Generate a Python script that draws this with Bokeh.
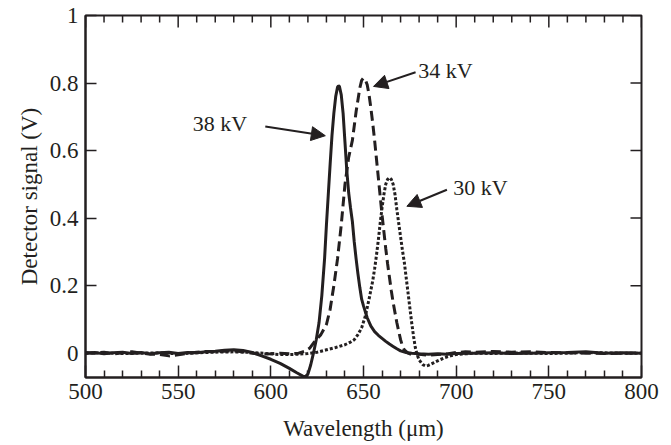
import math
from bokeh.plotting import figure
from bokeh.models import (ColumnDataSource, FixedTicker, LinearAxis, Range1d,
                          Arrow, NormalHead, PrintfTickFormatter)
from bokeh.core.properties import value
from bokeh.embed import file_html
from bokeh.resources import INLINE

INK = "#231f20"
FONT = "Liberation Serif"

# ---------------- data ----------------
wl_38 = [500, 505, 510, 515, 520, 525, 530, 535, 540, 545, 550, 555, 560, 565, 570,
         575, 580, 585, 590, 595, 600, 605, 610, 614, 617, 618.5, 620, 621.5, 623,
         624.5, 626, 627.5, 629, 630, 631, 632, 633, 634, 635, 636, 636.5, 637, 638,
         639, 640, 641, 642, 643, 644, 645, 646, 647, 648, 649, 650, 652, 654, 656,
         658, 660, 662, 664, 666, 668, 670, 673, 676, 680, 685, 690, 695, 700, 710,
         720, 730, 740, 750, 760, 770, 780, 790, 800]
sig_38 = [0.0, 0.002, -0.002, 0.001, 0.003, -0.001, 0.002, -0.002, 0.001, 0.003,
          -0.001, 0.002, 0.001, 0.004, 0.006, 0.009, 0.010, 0.008, 0.002, -0.008,
          -0.018, -0.030, -0.045, -0.058, -0.067, -0.070, -0.062, -0.035, 0.0,
          0.04, 0.09, 0.17, 0.28, 0.38, 0.47, 0.56, 0.645, 0.71, 0.76, 0.788, 0.792,
          0.79, 0.765, 0.71, 0.625, 0.54, 0.475, 0.43, 0.39, 0.33, 0.28, 0.235,
          0.195, 0.16, 0.14, 0.105, 0.08, 0.064, 0.053, 0.044, 0.035, 0.027, 0.02,
          0.013, 0.007, 0.002, 0.0, -0.002, -0.003, -0.002, -0.003, -0.001, 0.0,
          0.001, -0.001, 0.0, 0.001, 0.002, 0.004, 0.0, 0.001, 0.0]

wl_34 = [500, 505, 510, 515, 520, 525, 530, 535, 540, 545, 550, 555, 560, 565, 570,
         575, 580, 585, 590, 595, 600, 605, 610, 615, 618, 621, 624, 627, 630, 632,
         634, 636, 638, 640, 642, 644, 646, 647, 648, 649, 650, 651, 652, 653, 654,
         655, 656, 657, 658, 659, 660, 661, 662, 663, 664, 665, 666, 667, 668, 669,
         670, 671, 672, 674, 676, 680, 685, 690, 695, 700, 705, 710, 720, 730, 740,
         750, 760, 770, 780, 790, 800]
sig_34 = [0.002, 0.0, 0.003, -0.002, 0.001, 0.004, 0.0, -0.003, -0.004, -0.008,
          -0.005, 0.0, 0.003, 0.005, 0.004, 0.006, 0.007, 0.004, 0.0, -0.003,
          -0.002, 0.0, -0.002, 0.0, 0.005, 0.015, 0.037, 0.055, 0.085, 0.13, 0.2,
          0.28, 0.38, 0.5, 0.58, 0.63, 0.715, 0.75, 0.785, 0.808, 0.815, 0.81,
          0.795, 0.765, 0.725, 0.68, 0.63, 0.575, 0.52, 0.465, 0.41, 0.36, 0.31,
          0.265, 0.225, 0.185, 0.15, 0.12, 0.09, 0.065, 0.04, 0.022, 0.01, 0.0,
          -0.004, -0.003, -0.006, -0.004, -0.002, 0.002, 0.004, 0.003, 0.005, 0.003,
          0.004, 0.002, 0.001, 0.0, -0.001, 0.0, 0.001]

wl_30 = [500, 510, 520, 530, 540, 550, 560, 570, 580, 590, 600, 605, 610, 615, 620,
         625, 630, 635, 640, 643, 645, 647, 649, 651, 653, 655, 656, 657, 658, 659,
         660, 661, 662, 663, 664, 665, 666, 667, 668, 669, 670, 671, 672, 673, 674,
         675, 676, 677, 678, 679, 680, 682, 683.5, 685, 688, 691, 694, 697, 700,
         705, 710, 720, 730, 740, 750, 760, 770, 780, 790, 800]
sig_30 = [0.0, 0.001, -0.001, 0.0, 0.001, -0.002, 0.001, 0.003, 0.004, 0.002,
          -0.002, -0.004, -0.004, -0.003, -0.001, 0.003, 0.01, 0.017, 0.025, 0.033,
          0.04, 0.055, 0.075, 0.11, 0.16, 0.215, 0.25, 0.29, 0.335, 0.385, 0.43,
          0.47, 0.5, 0.515, 0.52, 0.515, 0.5, 0.47, 0.425, 0.385, 0.345, 0.305,
          0.27, 0.225, 0.18, 0.135, 0.09, 0.05, 0.015, -0.005, -0.02, -0.034,
          -0.038, -0.036, -0.028, -0.02, -0.013, -0.008, -0.004, -0.002, 0.0,
          -0.001, 0.001, 0.0, -0.001, 0.0, 0.002, 0.001, 0.0, 0.0]

x_ticks = [500, 550, 600, 650, 700, 750, 800]
x_minor = [v for v in range(500, 801, 10) if v % 50]
y_ticks = [0, 0.2, 0.4, 0.6, 0.8, 1]

ann_text = ["38 kV", "34 kV", "30 kV"]
ann_x = [557.9, 679.5, 698.4]
ann_y = [0.680, 0.837, 0.491]
arr_x0 = [597.0, 678.1, 695.0]
arr_y0 = [0.671, 0.832, 0.484]
arr_x1 = [629.4, 655.4, 673.4]
arr_y1 = [0.644, 0.790, 0.435]

X_MIN, X_MAX = 500, 800
Y_MIN, Y_MAX = -0.072, 1.0

# ---------------- figure ----------------
p = figure(width=663, height=445, output_backend="svg", toolbar_location=None,
           x_range=Range1d(X_MIN, X_MAX), y_range=Range1d(Y_MIN, Y_MAX),
           min_border_left=85, min_border_right=22, min_border_top=15,
           min_border_bottom=68, x_axis_location=None, y_axis_location=None)
p.grid.visible = False
p.outline_line_color = INK
p.outline_line_width = 2
p.background_fill_color = "white"
p.border_fill_color = "white"


def style_axis(ax, minor):
    ax.axis_line_color = INK
    ax.axis_line_width = 2
    ax.major_tick_line_color = INK
    ax.major_tick_line_width = 1.5
    ax.major_tick_out = 0
    ax.minor_tick_out = 0
    if minor:
        ax.major_tick_in = 12
        ax.minor_tick_in = 7
        ax.minor_tick_line_color = INK
        ax.minor_tick_line_width = 1.5
    else:
        ax.major_tick_in = 11
        ax.minor_tick_line_color = None
    ax.major_label_text_font = FONT
    ax.major_label_text_color = INK
    ax.major_label_text_font_size = "23px"
    ax.axis_label_text_font = FONT
    ax.axis_label_text_font_size = "23px"
    ax.axis_label_text_font_style = "normal"
    ax.axis_label_text_color = INK


xt = FixedTicker(ticks=x_ticks, minor_ticks=x_minor)
yt = FixedTicker(ticks=y_ticks, minor_ticks=[])

xb = LinearAxis(ticker=xt, formatter=PrintfTickFormatter(format="%d"),
                axis_label="Wavelength (\u03bcm)")
style_axis(xb, True)
xb.major_label_standoff = 6
xb.axis_label_standoff = 14
p.add_layout(xb, "below")

yl = LinearAxis(ticker=yt, formatter=PrintfTickFormatter(format="%g"),
                axis_label="Detector signal (V)")
style_axis(yl, False)
yl.major_label_standoff = 7
yl.axis_label_standoff = 5
p.add_layout(yl, "left")

# mirrored tick marks on the top and right frame edges
p.ray(x=x_ticks, y=[Y_MAX] * len(x_ticks), length=12, length_units="screen",
      angle=-math.pi / 2, line_color=INK, line_width=1.5)
p.ray(x=x_minor, y=[Y_MAX] * len(x_minor), length=7, length_units="screen",
      angle=-math.pi / 2, line_color=INK, line_width=1.5)
p.ray(x=[X_MAX] * len(y_ticks), y=y_ticks, length=11, length_units="screen",
      angle=math.pi, line_color=INK, line_width=1.5)

# ---------------- curves ----------------
p.line(wl_30, sig_30, line_color=INK, line_width=3, line_dash="3 2")
p.line(wl_34, sig_34, line_color=INK, line_width=3, line_dash="10 5")
p.line(wl_38, sig_38, line_color=INK, line_width=3)

# ---------------- annotations ----------------
asrc = ColumnDataSource(dict(x0=arr_x0, y0=arr_y0, x1=arr_x1, y1=arr_y1))
p.add_layout(Arrow(end=NormalHead(size=14, fill_color=INK, line_color=INK),
                   x_start="x0", y_start="y0", x_end="x1", y_end="y1",
                   source=asrc, line_color=INK, line_width=2))
p.text(x=ann_x, y=ann_y, text=ann_text, text_font=value(FONT),
       text_font_size=value("22px"), text_color=INK, text_align="left",
       text_baseline="middle")

open("out.html", "w").write(file_html(p, INLINE))
